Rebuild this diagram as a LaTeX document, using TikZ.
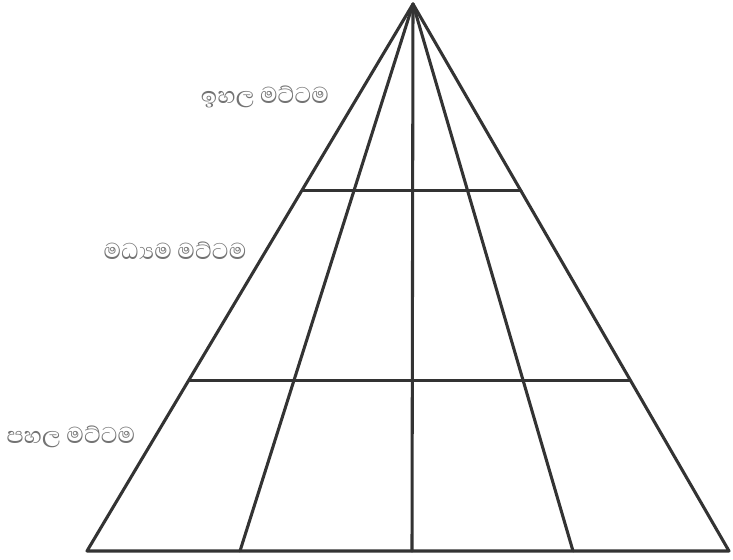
\documentclass[tikz,border=0pt]{standalone}
\usepackage{fontspec}
\newfontfamily\sinhalafont[Script=Sinhala]{Abhaya Libre}
\usetikzlibrary{calc}

\tikzset{
  edge/.style={line width=2.3pt, draw=black!80, line join=round, line cap=round},
  levellabel/.style={font=\sinhalafont\fontsize{22}{24}\selectfont, text=black!55, inner sep=0pt}
}

\begin{document}
\begin{tikzpicture}[x=0.75pt, y=-0.75pt]
    \useasboundingbox (0,0) rectangle (733,560);

    % --- corner points of the pyramid ---
    \coordinate (Top) at (413, 4);
    \coordinate (BL) at (87, 551);
    \coordinate (BR) at (729, 551);
    % --- feet of the inner lines on the base ---
    \coordinate (F1) at (240, 551);
    \coordinate (F2) at (412, 551);
    \coordinate (F3) at (573, 551);

    % --- ends of the two level lines on the sides ---
    \coordinate (UL) at ($ (Top)!0.341!(BL) $);
    \coordinate (UR) at ($ (Top)!0.341!(BR) $);
    \coordinate (ML) at ($ (Top)!0.688!(BL) $);
    \coordinate (MR) at ($ (Top)!0.688!(BR) $);

    % --- outline ---
    \draw[edge] (Top) -- (BL) -- (BR) -- cycle;

    % --- lines from the top to the base ---
    \draw[edge] (Top) -- (F1);
    \draw[edge] (Top) -- (F2);
    \draw[edge] (Top) -- (F3);

    % --- level lines ---
    \draw[edge] (UL) -- (UR);
    \draw[edge] (ML) -- (MR);

    % --- labels of the levels ---
    \node[levellabel] (upper) at (265, 97) {ඉහල මට්ටම};
    \node[levellabel] (middle) at (175, 251) {මධ්‍යම මට්ටම};
    \node[levellabel] (lower) at (71, 437) {පහල මට්ටම};

\end{tikzpicture}
\end{document}
